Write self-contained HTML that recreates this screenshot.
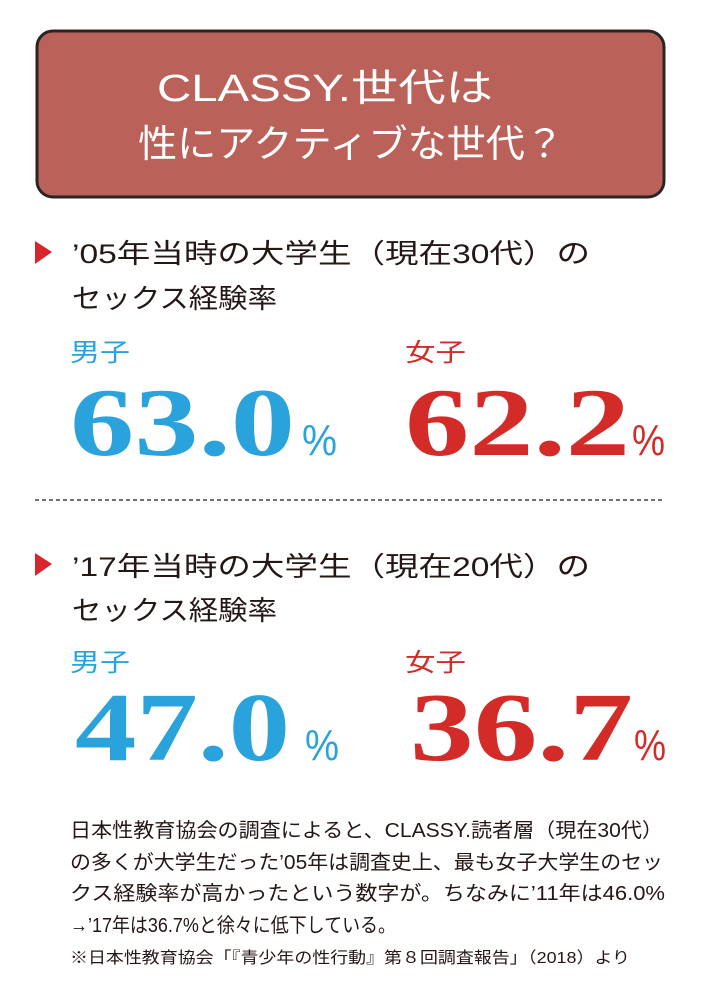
<!DOCTYPE html>
<html><head><meta charset="utf-8"><style>
html,body{margin:0;padding:0;background:#fff;}
svg{display:block}
.j{font-family:"Liberation Sans","Noto Sans CJK JP",sans-serif;}
.n{font-family:"Liberation Serif",serif;font-weight:bold;}
</style></head><body>
<svg width="720" height="995" viewBox="0 0 720 995" xmlns="http://www.w3.org/2000/svg">
<rect x="37" y="31" width="627" height="166" rx="16" fill="#ba625a" stroke="#2a2422" stroke-width="3"/>
<g class="j" fill="#fff" font-size="38">
<text x="157" y="101" textLength="336" lengthAdjust="spacingAndGlyphs">CLASSY.世代は</text>
<text x="138" y="157" textLength="426" lengthAdjust="spacingAndGlyphs">性にアクティブな世代？</text>
</g>
<polygon points="35,241 52,252 35,264" fill="#d7262b"/>
<polygon points="35,553 52,564 35,576" fill="#d7262b"/>
<g class="j" fill="#231815" font-size="27">
<text x="72" y="263" textLength="518" lengthAdjust="spacingAndGlyphs">’05年当時の大学生（現在30代）の</text>
<text x="72" y="308" textLength="205" lengthAdjust="spacingAndGlyphs">セックス経験率</text>
<text x="72" y="576" textLength="518" lengthAdjust="spacingAndGlyphs">’17年当時の大学生（現在20代）の</text>
<text x="72" y="620" textLength="205" lengthAdjust="spacingAndGlyphs">セックス経験率</text>
</g>
<g class="j" font-size="25">
<text x="70" y="361" fill="#2aa3dc" textLength="60" lengthAdjust="spacingAndGlyphs">男子</text>
<text x="405" y="361" fill="#d32b27" textLength="61" lengthAdjust="spacingAndGlyphs">女子</text>
<text x="70" y="671" fill="#2aa3dc" textLength="60" lengthAdjust="spacingAndGlyphs">男子</text>
<text x="405" y="671" fill="#d32b27" textLength="61" lengthAdjust="spacingAndGlyphs">女子</text>
</g>
<g class="n" font-size="97">
<text x="70" y="455" fill="#2aa3dc" textLength="225" lengthAdjust="spacingAndGlyphs">63.0</text>
<text x="405" y="455" fill="#d32b27" textLength="225" lengthAdjust="spacingAndGlyphs">62.2</text>
<text x="75" y="760" fill="#2aa3dc" textLength="215" lengthAdjust="spacingAndGlyphs">47.0</text>
<text x="410" y="760" fill="#d32b27" textLength="223" lengthAdjust="spacingAndGlyphs">36.7</text>
</g>
<g class="j" font-size="44" font-weight="normal">
<text x="302" y="455" fill="#2aa3dc" textLength="35" lengthAdjust="spacingAndGlyphs">%</text>
<text x="632" y="455" fill="#d32b27" textLength="33" lengthAdjust="spacingAndGlyphs">%</text>
<text x="305" y="760" fill="#2aa3dc" textLength="34" lengthAdjust="spacingAndGlyphs">%</text>
<text x="634" y="760" fill="#d32b27" textLength="32" lengthAdjust="spacingAndGlyphs">%</text>
</g>
<line x1="35" y1="500" x2="663" y2="500" stroke="#444" stroke-width="1.5" stroke-dasharray="4,3"/>
<g class="j" fill="#231815" font-size="20">
<text x="70" y="837" textLength="593" lengthAdjust="spacingAndGlyphs">日本性教育協会の調査によると、CLASSY.読者層（現在30代）</text>
<text x="70" y="869" textLength="593" lengthAdjust="spacingAndGlyphs">の多くが大学生だった’05年は調査史上、最も女子大学生のセッ</text>
<text x="70" y="900" textLength="595" lengthAdjust="spacingAndGlyphs">クス経験率が高かったという数字が。ちなみに’11年は46.0%</text>
<text x="70" y="932" textLength="326" lengthAdjust="spacingAndGlyphs">→’17年は36.7%と徐々に低下している。</text>
<text x="70" y="963" font-size="16" textLength="560" lengthAdjust="spacingAndGlyphs">※日本性教育協会「『青少年の性行動』第８回調査報告」（2018）より</text>
</g>
</svg>
</body></html>
